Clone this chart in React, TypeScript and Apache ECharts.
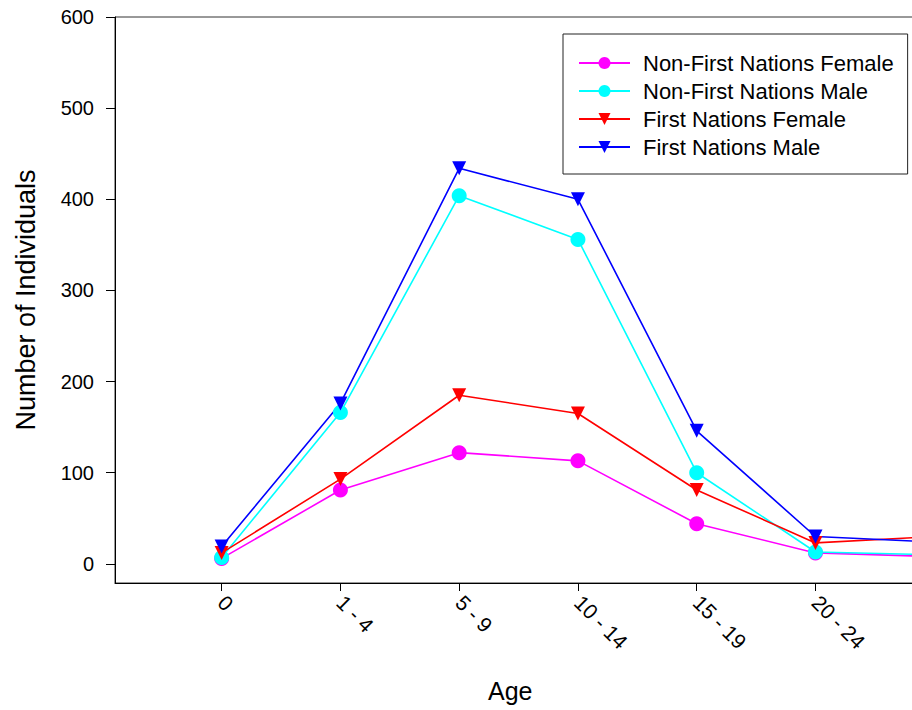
import React, { useEffect, useRef } from "react";
import * as echarts from "echarts";

const categories = ["0", "1 - 4", "5 - 9", "10 - 14", "15 - 19", "20 - 24", "25 - 29"];
const nonFnFemale = [6, 81, 122, 113, 44, 12, 8];
const nonFnMale = [7, 166, 404, 356, 100, 13, 10];
const fnFemale = [12, 93, 185, 165, 81, 23, 30];
const fnMale = [19, 176, 434, 400, 146, 30, 24];
const yTicks = [0, 100, 200, 300, 400, 500, 600];
const shownLabels = [0, 1, 2, 3, 4, 5];

const FONT = "'Liberation Sans', Arial, sans-serif";

function pairs(vals: number[]) {
  return vals.map((v, i) => [i, v]);
}

export default function App() {
  const ref = useRef<HTMLDivElement>(null);
  useEffect(() => {
    if (!ref.current) return;
    const chart = echarts.init(ref.current, null, { renderer: "svg" });
    const idx = categories.map((_, i) => i);
    const mk = (name: string, data: number[], color: string, symbol: string, rot: number, size: number) => ({
      name,
      type: "line",
      data: pairs(data),
      symbol,
      symbolSize: size,
      symbolRotate: rot,
      showAllSymbol: true,
      lineStyle: { color, width: 1.6 },
      itemStyle: { color, opacity: 1 },
      emphasis: { disabled: true },
    });
    chart.setOption({
      animation: false,
      textStyle: { fontFamily: FONT },
      grid: {
        left: 115,
        top: 17,
        bottom: 127,
        width: 938,
        show: true,
        borderColor: "#333",
        borderWidth: 1,
        outerBoundsMode: "none",
        containLabel: false,
      },
      legend: {
        orient: "vertical",
        left: 563,
        top: 34,
        width: 400,
        padding: [18, 14, 16, 15],
        borderColor: "#222",
        borderWidth: 1,
        itemWidth: 51,
        itemHeight: 15,
        itemGap: 6,
        textStyle: {
          fontSize: 22,
          fontFamily: FONT,
          color: "#000",
          lineHeight: 22,
          padding: [0, 0, 0, 8],
        },
        data: ["Non-First Nations Female", "Non-First Nations Male", "First Nations Female", "First Nations Male"],
      },
      xAxis: {
        type: "value",
        min: -0.898,
        max: 7,
        splitLine: { show: false },
        axisLine: { onZero: false, lineStyle: { color: "#000", width: 1 } },
        axisTick: { customValues: idx, length: 8, lineStyle: { color: "#000" } },
        axisLabel: {
          customValues: shownLabels,
          rotate: -45,
          margin: 16,
          fontSize: 21,
          color: "#000",
          fontFamily: FONT,
          formatter: (v: number) => categories[Math.round(v)] ?? "",
        },
      },
      yAxis: {
        type: "value",
        min: -21,
        max: 600,
        splitLine: { show: false },
        name: "Number of Individuals",
        nameLocation: "middle",
        nameGap: 76,
        nameTextStyle: { fontSize: 27, color: "#000", fontFamily: FONT },
        axisLine: { show: true, onZero: false, lineStyle: { color: "#000", width: 1 } },
        axisTick: { show: true, customValues: yTicks, length: 9, lineStyle: { color: "#000" } },
        axisLabel: { customValues: yTicks, margin: 21, fontSize: 20, color: "#000", fontFamily: FONT },
      },
      graphic: [
        {
          type: "text",
          left: 488,
          top: 678,
          style: { text: "Age", fontSize: 25, fill: "#000", fontFamily: FONT },
        },
      ],
      series: [
        mk("Non-First Nations Female", nonFnFemale, "#FF00FF", "circle", 0, 15),
        mk("Non-First Nations Male", nonFnMale, "#00FFFF", "circle", 0, 15),
        mk("First Nations Female", fnFemale, "#FF0000", "triangle", 180, 14),
        mk("First Nations Male", fnMale, "#0000FF", "triangle", 180, 14),
      ],
    });
    return () => chart.dispose();
  }, []);
  return (
    <div
      ref={ref}
      style={{ position: "fixed", left: 0, top: 0, width: 912, height: 710, background: "#fff" }}
    />
  );
}
